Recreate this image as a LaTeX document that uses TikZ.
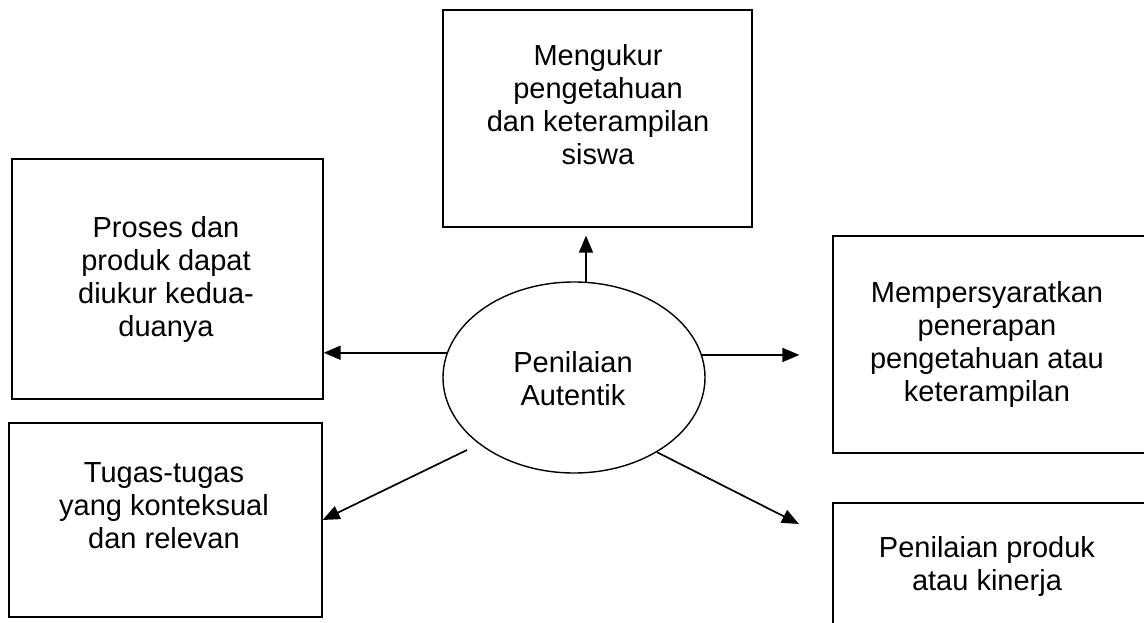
\documentclass[tikz,border=0pt]{standalone}
\usepackage{fontspec}
\setmainfont{Liberation Sans}
\usetikzlibrary{shapes.geometric,arrows.meta,calc}
\begin{document}
\begin{tikzpicture}[x=1pt,y=-1pt,
  box/.style={draw,line width=1.3pt,inner sep=0pt,rectangle},
  txt/.style={align=center,inner sep=0pt,anchor=north,font=\fontsize{29}{33}\selectfont},
  arr/.style={line width=1.7pt,-{Triangle[length=17pt,width=14pt]}}]
\useasboundingbox (0,0) rectangle (1144,623);
\clip (0,0) rectangle (1144,623);
% boxes
\node[box,minimum width=309pt,minimum height=217pt] (top) at (597.5,118.5) {};
\node[box,minimum width=311pt,minimum height=240pt] (pl) at (167.5,279) {};
\node[box,minimum width=313pt,minimum height=194pt] (ll) at (165.5,520) {};
\node[box,minimum width=317pt,minimum height=217pt] (rb) at (991.5,344.5) {};
\node[box,minimum width=317pt,minimum height=137pt] (rl) at (991.5,571.5) {};
\node[draw,ellipse,line width=1.4pt,minimum width=262pt,minimum height=191pt,inner sep=0pt] (ell) at (574,377.5) {};
% texts
\node[txt] (ttop) at (598,44) {Mengukur\\pengetahuan\\dan keterampilan\\siswa};
\node[txt] (tpl) at (166,216) {Proses dan\\produk dapat\\diukur kedua-\\duanya};
\node[txt] (tll) at (164,462) {Tugas-tugas\\yang konteksual\\dan relevan};
\node[txt] (trb) at (987,281) {Mempersyaratkan\\penerapan\\pengetahuan atau\\keterampilan};
\node[txt] (trl) at (987,536) {Penilaian produk\\atau kinerja};
\node[txt] (tell) at (573,351) {Penilaian\\Autentik};
% connectors
\coordinate (ua) at (586,282);
\draw[arr,shorten >=8pt] (ua) -- (ua |- top.south);
\draw[arr] (ell.169) -- (ell.169 -| pl.east);
\draw[arr,shorten >=33pt] (ell.10) -- (ell.10 -| rb.west);
\coordinate (s1) at (467,450);
\draw[arr] (s1) -- (ll.east);
\coordinate (t2) at (799,524);
\draw[arr] (ell.-42) -- (t2);
\end{tikzpicture}
\end{document}
